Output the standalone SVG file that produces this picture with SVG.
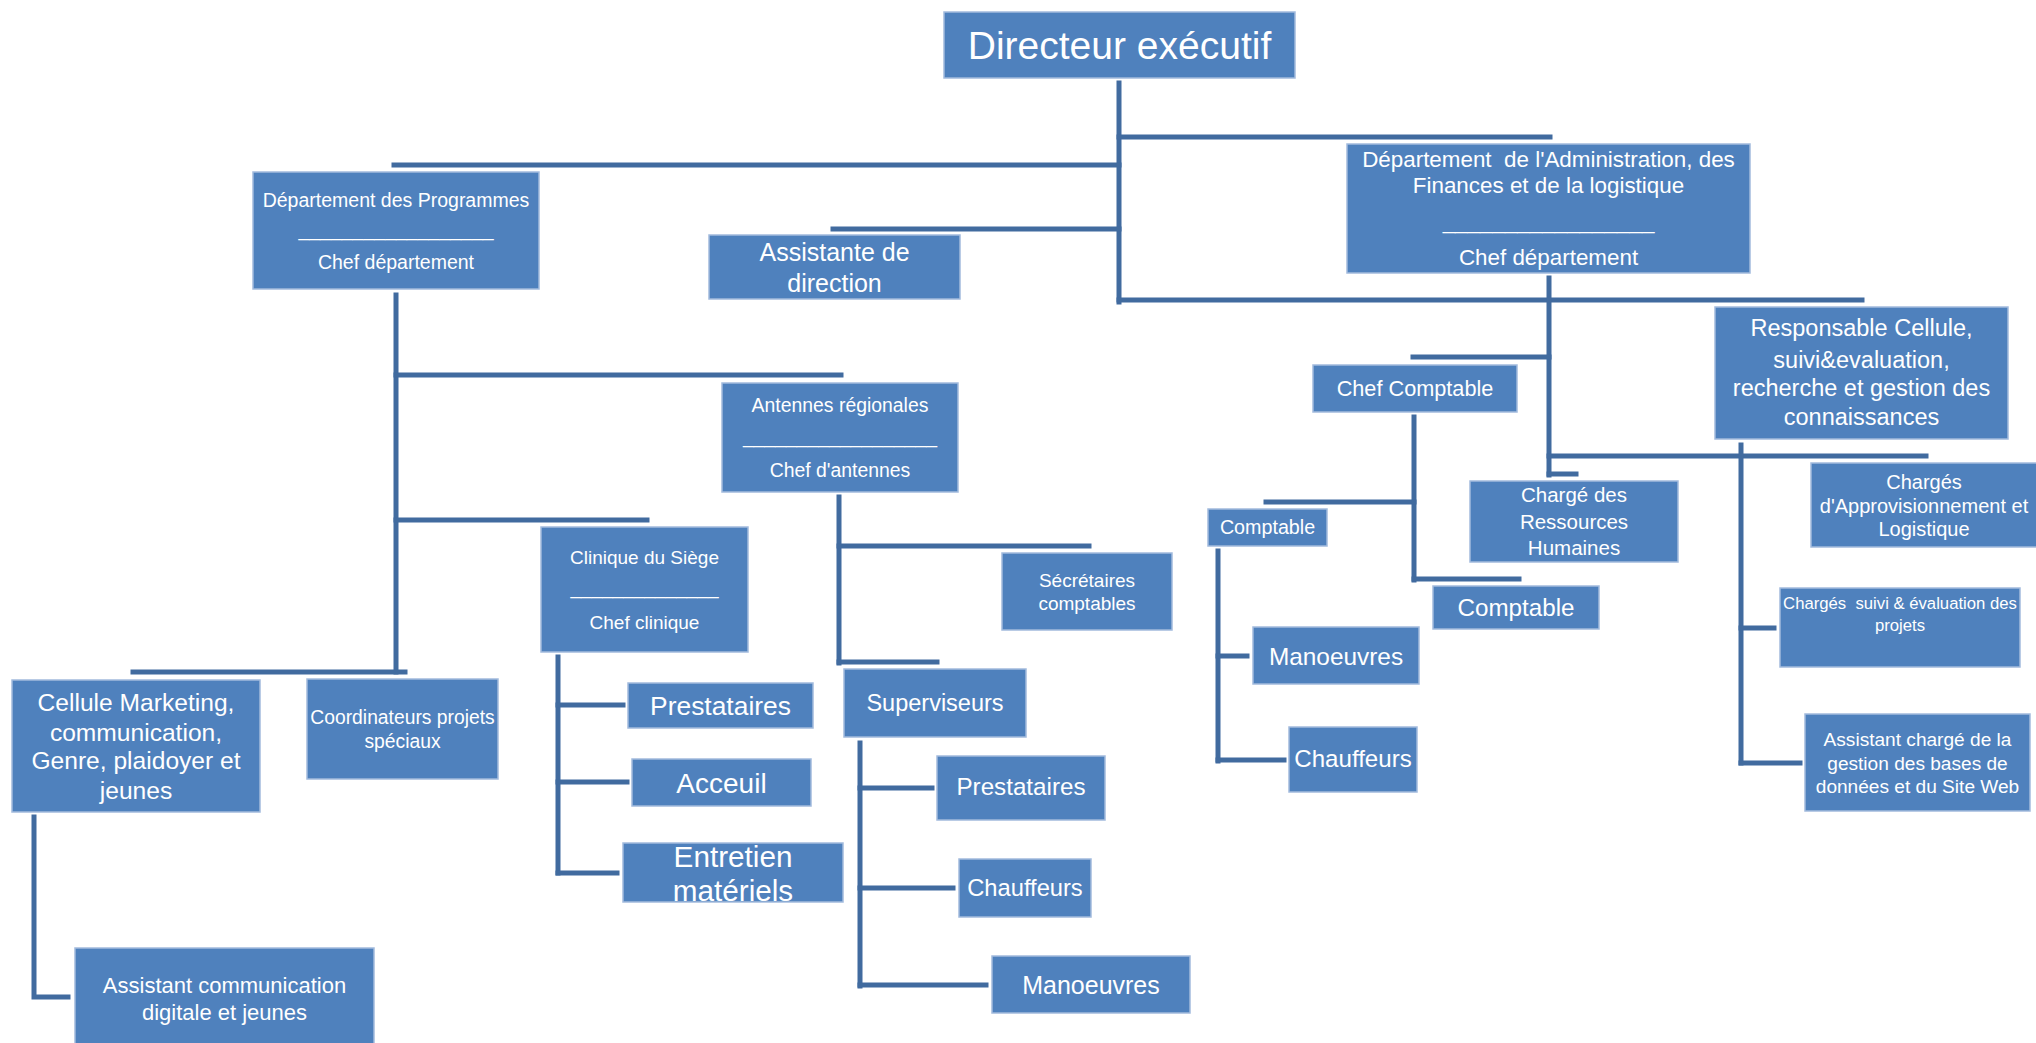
<svg xmlns="http://www.w3.org/2000/svg" width="2036" height="1043" viewBox="0 0 2036 1043">
  <style>
    .box { fill: #4F81BD; stroke: #A2BBDD; stroke-width: 1.5; }
    .t { fill: #FFFFFF; font-family: "Liberation Sans", Arial, sans-serif; text-anchor: middle; white-space: pre; }
    .ln { stroke: #416B9F; stroke-width: 5; stroke-linecap: square; fill: none; }
  </style>
  <rect width="2036" height="1043" fill="#FFFFFF"/>

  <!-- reporting lines -->
  <g id="connectors">
    <path class="ln" d="M1119 83 V302"/>
    <path class="ln" d="M1119 137 H1550"/>
    <path class="ln" d="M394 165 H1119"/>
    <path class="ln" d="M833 229 H1119"/>
    <path class="ln" d="M1119 300 H1862"/>
    <!-- programmes branch -->
    <path class="ln" d="M396 295 V672"/>
    <path class="ln" d="M396 375 H841"/>
    <path class="ln" d="M396 520 H647"/>
    <path class="ln" d="M133 672 H405"/>
    <path class="ln" d="M839 497 V663"/>
    <path class="ln" d="M839 546 H1089"/>
    <path class="ln" d="M839 662 H937"/>
    <path class="ln" d="M558 657 V873"/>
    <path class="ln" d="M558 705 H623"/>
    <path class="ln" d="M558 782 H627"/>
    <path class="ln" d="M558 873 H617"/>
    <path class="ln" d="M860 743 V986"/>
    <path class="ln" d="M860 788 H932"/>
    <path class="ln" d="M860 888 H953"/>
    <path class="ln" d="M860 985 H986"/>
    <path class="ln" d="M34 817 V997 H68"/>
    <!-- administration branch -->
    <path class="ln" d="M1549 278 V475"/>
    <path class="ln" d="M1413 357 H1549"/>
    <path class="ln" d="M1549 456 H1926"/>
    <path class="ln" d="M1549 474 H1576"/>
    <path class="ln" d="M1741 445 V763"/>
    <path class="ln" d="M1741 628 H1774"/>
    <path class="ln" d="M1741 763 H1800"/>
    <path class="ln" d="M1414 417 V580"/>
    <path class="ln" d="M1266 502 H1414"/>
    <path class="ln" d="M1414 579 H1519"/>
    <path class="ln" d="M1218 551 V761"/>
    <path class="ln" d="M1218 656 H1247"/>
    <path class="ln" d="M1218 760 H1284"/>
  </g>

  <g id="directeur">
    <rect class="box" x="944" y="12" width="351" height="66"/>
    <text class="t" x="1119.5" y="59" font-size="39">Directeur exécutif</text>
  </g>

  <g id="dept-programmes">
    <rect class="box" x="253" y="172" width="286" height="117"/>
    <text class="t" font-size="19.5"><tspan x="396" y="207">Département des Programmes</tspan><tspan x="396" y="236">__________________</tspan><tspan x="396" y="269">Chef département</tspan></text>
  </g>

  <g id="assistante-direction">
    <rect class="box" x="709" y="235" width="251" height="64"/>
    <text class="t" font-size="25"><tspan x="834.5" y="261">Assistante de</tspan><tspan x="834.5" y="292">direction</tspan></text>
  </g>

  <g id="dept-administration">
    <rect class="box" x="1347" y="144" width="403" height="129"/>
    <text class="t" font-size="22.4"><tspan x="1548.5" y="167">Département  de l'Administration, des</tspan><tspan x="1548.5" y="193">Finances et de la logistique</tspan><tspan x="1548.5" y="229">_________________</tspan><tspan x="1548.5" y="265">Chef département</tspan></text>
  </g>

  <g id="responsable-cellule">
    <rect class="box" x="1715" y="307" width="293" height="132"/>
    <text class="t" font-size="23.5"><tspan x="1861.5" y="336">Responsable Cellule,</tspan><tspan x="1861.5" y="368">suivi&amp;evaluation,</tspan><tspan x="1861.5" y="396">recherche et gestion des</tspan><tspan x="1861.5" y="425">connaissances</tspan></text>
  </g>

  <g id="antennes">
    <rect class="box" x="722" y="383" width="236" height="109"/>
    <text class="t" font-size="19.4"><tspan x="840" y="412">Antennes régionales</tspan><tspan x="840" y="443">__________________</tspan><tspan x="840" y="477">Chef d'antennes</tspan></text>
  </g>

  <g id="clinique">
    <rect class="box" x="541" y="527" width="207" height="125"/>
    <text class="t" font-size="19"><tspan x="644.5" y="564">Clinique du Siège</tspan><tspan x="644.5" y="594">______________</tspan><tspan x="644.5" y="629">Chef clinique</tspan></text>
  </g>

  <g id="cellule-marketing">
    <rect class="box" x="12" y="680" width="248" height="132"/>
    <text class="t" font-size="24.6"><tspan x="136" y="711">Cellule Marketing,</tspan><tspan x="136" y="741">communication,</tspan><tspan x="136" y="769">Genre, plaidoyer et</tspan><tspan x="136" y="799">jeunes</tspan></text>
  </g>

  <g id="coordinateurs">
    <rect class="box" x="307" y="679" width="191" height="100"/>
    <text class="t" font-size="19.3"><tspan x="402.5" y="724">Coordinateurs projets</tspan><tspan x="402.5" y="748">spéciaux</tspan></text>
  </g>

  <g id="assistant-communication">
    <rect class="box" x="75" y="948" width="299" height="100"/>
    <text class="t" font-size="22"><tspan x="224.5" y="993">Assistant communication</tspan><tspan x="224.5" y="1020">digitale et jeunes</tspan></text>
  </g>

  <g id="prestataires-clinique">
    <rect class="box" x="628" y="683" width="185" height="45"/>
    <text class="t" x="720.5" y="715" font-size="26.4">Prestataires</text>
  </g>

  <g id="acceuil">
    <rect class="box" x="632" y="759" width="179" height="47"/>
    <text class="t" x="721.5" y="793" font-size="28">Acceuil</text>
  </g>

  <g id="entretien">
    <rect class="box" x="623" y="843" width="220" height="59"/>
    <text class="t" font-size="29.7"><tspan x="733" y="867">Entretien</tspan><tspan x="733" y="901">matériels</tspan></text>
  </g>

  <g id="superviseurs">
    <rect class="box" x="844" y="669" width="182" height="68"/>
    <text class="t" x="935" y="711" font-size="23.5">Superviseurs</text>
  </g>

  <g id="prestataires-antennes">
    <rect class="box" x="937" y="756" width="168" height="64"/>
    <text class="t" x="1021" y="795" font-size="24.2">Prestataires</text>
  </g>

  <g id="chauffeurs-antennes">
    <rect class="box" x="959" y="859" width="132" height="58"/>
    <text class="t" x="1025" y="896" font-size="23.7">Chauffeurs</text>
  </g>

  <g id="manoeuvres-antennes">
    <rect class="box" x="992" y="956" width="198" height="57"/>
    <text class="t" x="1091" y="994" font-size="25">Manoeuvres</text>
  </g>

  <g id="secretaires">
    <rect class="box" x="1002" y="553" width="170" height="77"/>
    <text class="t" font-size="19"><tspan x="1087" y="587">Sécrétaires</tspan><tspan x="1087" y="610">comptables</tspan></text>
  </g>

  <g id="chef-comptable">
    <rect class="box" x="1313" y="365" width="204" height="47"/>
    <text class="t" x="1415" y="396" font-size="21.7">Chef Comptable</text>
  </g>

  <g id="charge-rh">
    <rect class="box" x="1470" y="481" width="208" height="81"/>
    <text class="t" font-size="20.5"><tspan x="1574" y="502">Chargé des</tspan><tspan x="1574" y="529">Ressources</tspan><tspan x="1574" y="555">Humaines</tspan></text>
  </g>

  <g id="comptable-1">
    <rect class="box" x="1208" y="509" width="119" height="37"/>
    <text class="t" x="1267.5" y="534" font-size="19.7">Comptable</text>
  </g>

  <g id="comptable-2">
    <rect class="box" x="1433" y="586" width="166" height="43"/>
    <text class="t" x="1516" y="616" font-size="24.2">Comptable</text>
  </g>

  <g id="manoeuvres-admin">
    <rect class="box" x="1253" y="627" width="166" height="57"/>
    <text class="t" x="1336" y="665" font-size="24.4">Manoeuvres</text>
  </g>

  <g id="chauffeurs-admin">
    <rect class="box" x="1289" y="727" width="128" height="65"/>
    <text class="t" x="1353" y="767" font-size="24.1">Chauffeurs</text>
  </g>

  <g id="charges-approvisionnement">
    <rect class="box" x="1811" y="463" width="230" height="84"/>
    <text class="t" font-size="20"><tspan x="1924" y="489">Chargés</tspan><tspan x="1924" y="513">d'Approvisionnement et</tspan><tspan x="1924" y="536">Logistique</tspan></text>
  </g>

  <g id="charges-suivi">
    <rect class="box" x="1780" y="588" width="240" height="79"/>
    <text class="t" font-size="16.7"><tspan x="1900" y="609">Chargés  suivi &amp; évaluation des</tspan><tspan x="1900" y="631">projets</tspan></text>
  </g>

  <g id="assistant-bases">
    <rect class="box" x="1805" y="714" width="225" height="97"/>
    <text class="t" font-size="19.1"><tspan x="1917.5" y="746">Assistant chargé de la</tspan><tspan x="1917.5" y="770">gestion des bases de</tspan><tspan x="1917.5" y="793">données et du Site Web</tspan></text>
  </g>
</svg>
